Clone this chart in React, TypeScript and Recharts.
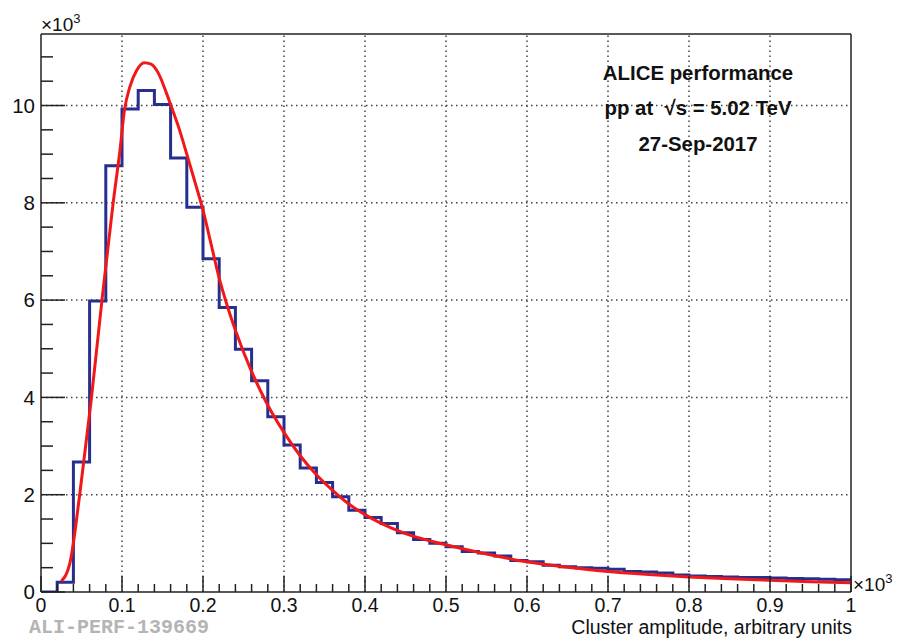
import {
  ComposedChart,
  Line,
  XAxis,
  YAxis,
  ReferenceLine,
} from "recharts";

const FONT = "'Liberation Sans', Arial, Helvetica, sans-serif";
const MONO = "'Liberation Mono', 'Courier New', monospace";

// histogram: 50 bins of width 0.02 (x10^3), counts in x10^3
const binWidth = 0.02;
const binCounts = [
  0.0, 0.2, 2.67, 5.98, 8.76, 9.93, 10.31, 10.02, 8.92, 7.91,
  6.85, 5.85, 4.99, 4.34, 3.6, 3.02, 2.55, 2.25, 1.96, 1.68,
  1.53, 1.41, 1.22, 1.08, 1.0, 0.93, 0.83, 0.8, 0.74, 0.65,
  0.62, 0.55, 0.52, 0.5, 0.49, 0.47, 0.42, 0.41, 0.39, 0.35,
  0.33, 0.32, 0.31, 0.3, 0.3, 0.29, 0.28, 0.27, 0.26, 0.25,
];

// fitted curve
const fitX = [
  0.025, 0.036, 0.048, 0.062, 0.075, 0.089, 0.0975, 0.103, 0.11, 0.118,
  0.1275, 0.136, 0.145, 0.155, 0.16, 0.17, 0.18, 0.19, 0.2, 0.21,
  0.22, 0.23, 0.24, 0.26, 0.28, 0.3, 0.32, 0.34, 0.36, 0.38,
  0.4, 0.42, 0.45, 0.5, 0.55, 0.6, 0.65, 0.7, 0.75, 0.8,
  0.85, 0.9, 0.95, 1.0,
];
const fitY = [
  0.22, 0.62, 2.03, 3.95, 5.96, 7.99, 9.08, 9.9, 10.4, 10.72,
  10.88, 10.85, 10.66, 10.25, 10.02, 9.55, 9.0, 8.43, 7.85, 7.15,
  6.45, 5.88, 5.38, 4.53, 3.84, 3.28, 2.8, 2.41, 2.09, 1.81,
  1.59, 1.41, 1.2, 0.97, 0.78, 0.62, 0.51, 0.42, 0.36, 0.31,
  0.27, 0.24, 0.21, 0.19,
];

const xMajorTicks = [0, 0.1, 0.2, 0.3, 0.4, 0.5, 0.6, 0.7, 0.8, 0.9, 1];
const xTickLabels = ["0", "0.1", "0.2", "0.3", "0.4", "0.5", "0.6", "0.7", "0.8", "0.9", "1"];
const yMajorTicks = [0, 2, 4, 6, 8, 10];
const yTickLabels = ["0", "2", "4", "6", "8", "10"];
const xGrid = [0.1, 0.2, 0.3, 0.4, 0.5, 0.6, 0.7, 0.8, 0.9];
const yGrid = [2, 4, 6, 8, 10];

const X_MAX = 1;
const Y_MAX = 11.47;

const xAllTicks = Array.from({ length: 51 }, (_, i) => Math.round(i * 2) / 100);
const yAllTicks = Array.from({ length: 23 }, (_, i) => i * 0.5);

const histData = [
  ...binCounts.map((v, i) => ({ x: Math.round(i * binWidth * 100) / 100, v })),
  { x: X_MAX, v: binCounts[binCounts.length - 1] },
];
const fitData = fitX.map((x, i) => ({ x, f: fitY[i] }));

const AXIS = "#222";

function XTick(props: any) {
  const { x, y, payload } = props;
  const idx = xMajorTicks.findIndex((t) => Math.abs(t - payload.value) < 1e-6);
  const major = idx >= 0;
  return (
    <g>
      <line x1={x} x2={x} y1={y} y2={y - (major ? 16 : 8)} stroke={AXIS} strokeWidth={1.5} />
      {major && (
        <text x={x} y={y + 20} textAnchor="middle" fontSize={19.5} fontFamily={FONT} fill="#111">
          {xTickLabels[idx]}
        </text>
      )}
    </g>
  );
}

function YTick(props: any) {
  const { x, y, payload } = props;
  const idx = yMajorTicks.findIndex((t) => Math.abs(t - payload.value) < 1e-6);
  const major = idx >= 0;
  return (
    <g>
      <line x1={x} x2={x + (major ? 24 : 12)} y1={y} y2={y} stroke={AXIS} strokeWidth={1.5} />
      {major && (
        <text x={x - 6} y={y} dy="0.36em" textAnchor="end" fontSize={20.5} fontFamily={FONT} fill="#111">
          {yTickLabels[idx]}
        </text>
      )}
    </g>
  );
}

export default function App() {
  return (
    <div style={{ position: "absolute", left: 0, top: 0, width: 902, height: 639, background: "#fff" }}>
      <ComposedChart
        width={902}
        height={639}
        margin={{ top: 34, right: 51, bottom: 0, left: 0 }}
      >
        {xGrid.map((g) => (
          <ReferenceLine key={"gx" + g} x={g} stroke="#444" strokeWidth={1.5} strokeDasharray="1.5 3.5" />
        ))}
        {yGrid.map((g) => (
          <ReferenceLine key={"gy" + g} y={g} stroke="#444" strokeWidth={1.5} strokeDasharray="1.5 3.5" />
        ))}
        <ReferenceLine x={X_MAX} stroke={AXIS} strokeWidth={1.5} />
        <ReferenceLine y={Y_MAX} stroke={AXIS} strokeWidth={1.5} />
        <XAxis
          dataKey="x"
          type="number"
          domain={[0, X_MAX]}
          allowDataOverflow
          ticks={xAllTicks}
          interval={0}
          tickSize={0}
          tickMargin={0}
          tick={<XTick />}
          tickLine={false}
          axisLine={{ stroke: AXIS, strokeWidth: 1.5 }}
          height={47}
        />
        <YAxis
          type="number"
          domain={[0, Y_MAX]}
          allowDataOverflow
          ticks={yAllTicks}
          interval={0}
          tickSize={0}
          tickMargin={0}
          tick={<YTick />}
          tickLine={false}
          axisLine={{ stroke: AXIS, strokeWidth: 1.5 }}
          width={41}
        />
        <Line
          data={histData}
          dataKey="v"
          type="stepAfter"
          stroke="#262f8e"
          strokeWidth={3}
          dot={false}
          activeDot={false}
          isAnimationActive={false}
        />
        <Line
          data={fitData}
          dataKey="f"
          type="monotone"
          stroke="#f01818"
          strokeWidth={3}
          dot={false}
          activeDot={false}
          isAnimationActive={false}
        />
      </ComposedChart>
      <svg
        width={902}
        height={639}
        style={{ position: "absolute", left: 0, top: 0, pointerEvents: "none" }}
      >
        <text x={41} y={31} fontSize={19} fontFamily={FONT} fill="#111">
          ×10<tspan fontSize={13} dy={-8}>3</tspan>
        </text>
        <text x={853} y={591} fontSize={19} fontFamily={FONT} fill="#111">
          ×10<tspan fontSize={13} dy={-8}>3</tspan>
        </text>
        <text x={852} y={634} textAnchor="end" fontSize={19.5} fontFamily={FONT} fill="#111">
          Cluster amplitude, arbitrary units
        </text>
        <text x={29} y={633} fontSize={20} fontWeight="bold" fontFamily={MONO} fill="#b4b4b4">
          ALI-PERF-139669
        </text>
        <g fontSize={20.4} fontWeight="bold" fontFamily={FONT} fill="#111" textAnchor="middle">
          <text x={698} y={80}>ALICE performance</text>
          <text x={698} y={115} style={{ whiteSpace: "pre" }}>
            {"pp at  √s = 5.02 TeV"}
          </text>
          <text x={698} y={151}>27-Sep-2017</text>
        </g>
      </svg>
    </div>
  );
}
